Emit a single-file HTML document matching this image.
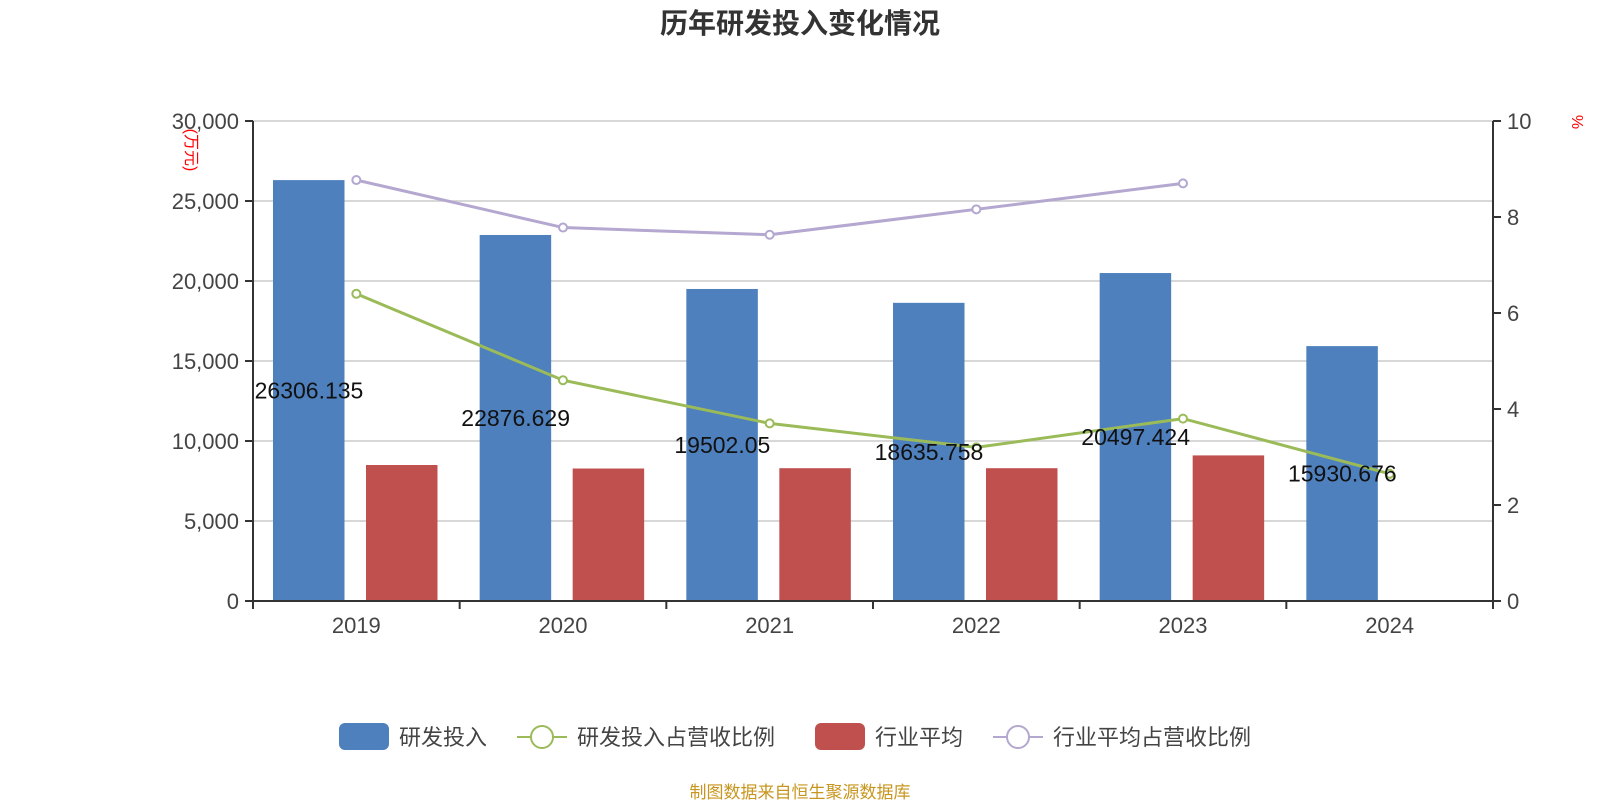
<!DOCTYPE html>
<html><head><meta charset="utf-8"><style>
html,body{margin:0;padding:0;background:#fff;width:1600px;height:800px;overflow:hidden}
text{font-family:"Liberation Sans","Noto Sans CJK SC",sans-serif}
</style></head><body>
<svg id="chart" width="1600" height="800" xmlns="http://www.w3.org/2000/svg">
<text x="800" y="33" text-anchor="middle" font-size="28" font-weight="bold" fill="#333">历年研发投入变化情况</text>
<g id="grid"></g><g id="bars"></g><g id="lines"></g><g id="axes"></g><g id="labels"></g>
<text transform="translate(186,150) rotate(90)" text-anchor="middle" font-size="16" fill="#f00">(万元)</text>
<text transform="translate(1572,122) rotate(90)" text-anchor="middle" font-size="16" fill="#f00">%</text>
<g>
<g><rect x="339" y="723" width="50" height="27" rx="6" fill="#4e80bd"/><text x="399" y="745" font-size="22" fill="#444">研发投入</text></g>
<g><line x1="517" y1="737" x2="567" y2="737" stroke="#9bbb59" stroke-width="2"/><circle cx="542" cy="737" r="11" fill="#fff" stroke="#9bbb59" stroke-width="2"/><text x="577" y="745" font-size="22" fill="#444">研发投入占营收比例</text></g>
<g><rect x="815" y="723" width="50" height="27" rx="6" fill="#c0504d"/><text x="875" y="745" font-size="22" fill="#444">行业平均</text></g>
<g><line x1="993" y1="737" x2="1043" y2="737" stroke="#b4a7d0" stroke-width="2"/><circle cx="1018" cy="737" r="11" fill="#fff" stroke="#b4a7d0" stroke-width="2"/><text x="1053" y="745" font-size="22" fill="#444">行业平均占营收比例</text></g>
</g>
<text x="800" y="798" text-anchor="middle" font-size="17" fill="#c8961e">制图数据来自恒生聚源数据库</text>
</svg>
<script>
const categories=["2019","2020","2021","2022","2023","2024"];
const rdInvest=[26306.135,22876.629,19502.05,18635.758,20497.424,15930.676];
const rdLabels=["26306.135","22876.629","19502.05","18635.758","20497.424","15930.676"];
const industryAvg=[8500,8280,8300,8300,9100,null];
const rdRatio=[6.4,4.6,3.7,3.2,3.8,2.65];
const industryRatio=[8.77,7.78,7.63,8.16,8.70,null];
const leftTicks=[0,5000,10000,15000,20000,25000,30000];
const rightTicks=[0,2,4,6,8,10];
const NS="http://www.w3.org/2000/svg";
const X0=253,X1=1493,Y0=601,Y1=121,band=(X1-X0)/categories.length;
const yL=v=>Y0-(v/30000)*(Y0-Y1);
const yR=v=>Y0-(v/10)*(Y0-Y1);
function mk(tag,attrs,parent,txt){const e=document.createElementNS(NS,tag);for(const k in attrs)e.setAttribute(k,attrs[k]);if(txt!=null)e.textContent=txt;document.getElementById(parent).appendChild(e);return e;}
leftTicks.forEach((t,i)=>{
 const y=yL(t);
 if(t>0){const g=mk('line',{x1:X0,x2:X1,y1:y,y2:y,stroke:'#ccc','stroke-width':1.5},'grid');
 
 }
 const tk=mk('line',{x1:X0-8,x2:X0,y1:y,y2:y,stroke:'#333','stroke-width':2},'axes');
 
 
 const l=mk('text',{x:X0-14,y:y+8,'text-anchor':'end','font-size':22,fill:'#444'},'axes',t.toLocaleString('en-US'));
 
 
});
rightTicks.forEach(t=>{
 const y=yR(t);
 const tk=mk('line',{x1:X1,x2:X1+8,y1:y,y2:y,stroke:'#333','stroke-width':2},'axes');
 
 
 const l=mk('text',{x:X1+14,y:y+8,'font-size':22,fill:'#444'},'axes',String(t));
 
 
});
let a=mk('line',{x1:X0,x2:X0,y1:Y1,y2:Y0+8,stroke:'#333','stroke-width':2},'axes');


a=mk('line',{x1:X1,x2:X1,y1:Y1,y2:Y0+8,stroke:'#333','stroke-width':2},'axes');


a=mk('line',{x1:X0,x2:X1,y1:Y0,y2:Y0,stroke:'#333','stroke-width':2},'axes');


for(let i=0;i<=categories.length;i++){const x=X0+i*band;
 const t=mk('line',{x1:x,x2:x,y1:Y0,y2:Y0+8,stroke:'#333','stroke-width':2},'axes');
 
 }
categories.forEach((c,i)=>{
 const bx=X0+i*band;
 const l=mk('text',{x:bx+band/2,y:Y0+32,'text-anchor':'middle','font-size':22,fill:'#444'},'axes',c);
 
 
 const b=mk('rect',{x:bx+20,y:yL(rdInvest[i]),width:71.5,height:Y0-yL(rdInvest[i]),fill:'#4e80bd'},'bars');
 
 
 if(industryAvg[i]!=null){const r=mk('rect',{x:bx+113,y:yL(industryAvg[i]),width:71.5,height:Y0-yL(industryAvg[i]),fill:'#c0504d'},'bars');
 
 }
 const v=mk('text',{x:bx+56,y:(yL(rdInvest[i])+Y0)/2+8,'text-anchor':'middle','font-size':23,fill:'#111'},'labels',rdLabels[i]);
 
 
});
function line(arr,color,name){
 const pts=[];arr.forEach((v,i)=>{if(v!=null)pts.push([X0+i*band+band/2,yR(v)]);});
 const p=mk('polyline',{points:pts.map(p=>p.join(',')).join(' '),fill:'none',stroke:color,'stroke-width':3},'lines');
 
 
 pts.forEach(q=>{const c=mk('circle',{cx:q[0],cy:q[1],r:4,fill:'#fff',stroke:color,'stroke-width':2},'lines');
 
 });
}
line(industryRatio,'#b4a7d0','industry-ratio');
line(rdRatio,'#9bbb59','rd-ratio');
</script>
</body></html>
